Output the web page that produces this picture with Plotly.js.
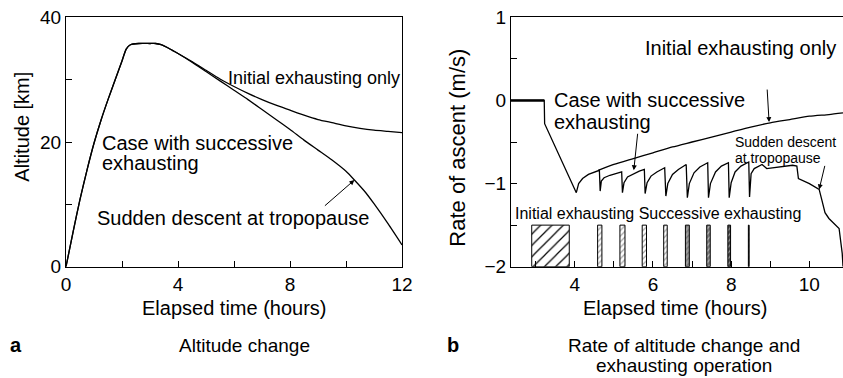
<!DOCTYPE html>
<html>
<head>
<meta charset="utf-8">
<script src="https://cdn.plot.ly/plotly-3.0.1.min.js"></script>
<style>html,body{margin:0;padding:0;background:#fff}#chart{width:843px;height:378px}</style>
</head>
<body>
<div id="chart"></div>
<script>
// ---- Panel a: altitude (km) vs elapsed time (hours) ----
const altTimeInitial = [0, 0.25, 0.5, 0.75, 1.0, 1.25, 1.5, 1.75, 2.0, 2.15, 2.3, 2.6, 3.0, 3.2, 3.4, 3.6, 3.8, 4.0, 4.5, 5.0, 5.5, 6.0, 6.5, 7.0, 7.5, 8.0, 8.5, 9.0, 9.5, 10.0, 10.5, 11.0, 11.5, 12.0];
const altInitial     = [0, 5.5, 10.8, 15.5, 19.8, 23.5, 26.8, 29.9, 33, 34.9, 35.6, 35.8, 35.8, 35.8, 35.6, 35.2, 34.7, 34.2, 32.9, 31.5, 30.1, 28.9, 27.8, 26.8, 25.9, 25.1, 24.3, 23.6, 23.1, 22.6, 22.2, 21.9, 21.7, 21.5];
const altTimeSucc    = [0, 0.25, 0.5, 0.75, 1.0, 1.25, 1.5, 1.75, 2.0, 2.15, 2.3, 2.6, 3.0, 3.2, 3.4, 3.6, 3.8, 4.0, 4.5, 5.0, 5.5, 6.0, 6.5, 7.0, 7.5, 8.0, 8.5, 9.0, 9.5, 10.0, 10.3, 10.7, 11.0, 11.5, 12.0];
const altSucc        = [0, 5.5, 10.8, 15.5, 19.8, 23.5, 26.8, 29.9, 33, 34.9, 35.6, 35.8, 35.8, 35.8, 35.6, 35.2, 34.7, 34.2, 32.8, 31.3, 29.8, 28.3, 26.8, 25.2, 23.6, 22.0, 20.3, 18.7, 17.1, 15.3, 13.9, 11.9, 10.1, 6.9, 3.5];

// ---- Panel b: rate of ascent (m/s) vs elapsed time (hours) ----
const rateTimeSucc = [2.37, 3.22, 3.23, 4.04, 4.1, 4.2, 4.35, 4.5, 4.63,
  4.65, 4.68, 4.75, 4.9, 5.05, 5.2,
  5.22, 5.26, 5.35, 5.5, 5.65, 5.78,
  5.8, 5.85, 5.95, 6.1, 6.3,
  6.33, 6.38, 6.5, 6.65, 6.85,
  6.88, 6.93, 7.05, 7.2, 7.4,
  7.42, 7.47, 7.6, 7.75, 7.93,
  7.95, 8.0, 8.1, 8.25, 8.45,
  8.47, 8.51, 8.59, 8.79, 8.91, 9.57, 9.68, 9.72, 10.0, 10.25, 10.32, 10.4, 10.5, 10.76, 10.84, 10.86];
const rateSucc = [0, 0, -0.28, -1.11, -1.0, -0.94, -0.89, -0.86, -0.84,
  -1.09, -0.97, -0.93, -0.9, -0.88, -0.86,
  -1.11, -0.99, -0.92, -0.88, -0.85, -0.83,
  -1.12, -0.99, -0.91, -0.86, -0.81,
  -1.15, -1.0, -0.89, -0.83, -0.77,
  -1.17, -1.0, -0.87, -0.8, -0.75,
  -1.17, -1.0, -0.86, -0.79, -0.75,
  -1.17, -0.99, -0.86, -0.79, -0.74,
  -1.16, -0.88, -0.82, -0.77, -0.82, -0.78, -0.79, -0.94, -1.0, -1.07, -1.2, -1.35, -1.42, -1.54, -1.84, -2.0];
const rateTimeInitial = [4.6, 5.0, 5.5, 6.0, 6.5, 7.0, 7.5, 8.0, 8.5, 9.0, 9.5, 10.0, 10.5, 10.86];
const rateInitial     = [-0.84, -0.77, -0.7, -0.63, -0.56, -0.5, -0.44, -0.38, -0.32, -0.27, -0.23, -0.19, -0.17, -0.15];

// exhausting operations (hours): centre and duration
const initialExhaustCenter   = [3.38];
const initialExhaustDuration = [0.96];
const succExhaustCenters     = [4.64, 5.22, 5.78, 6.32, 6.88, 7.42, 7.95, 8.45];
const succExhaustDurations   = [0.11, 0.13, 0.11, 0.09, 0.10, 0.09, 0.07, 0.02];
const succExhaustShades      = ['white', 'white', 'white', 'white', '#9a9a9a', '#777777', '#444444', 'black'];

// ---- layout helpers (pixel -> paper) ----
const W = 843, H = 378;
const PX = px => px / W;
const PY = py => 1 - py / H;
const FONT = 'Liberation Sans, Arial, Helvetica, sans-serif';
const yDom = [PY(266.7), PY(17.3)];

const lineStyle = {color: 'black', width: 1.3};

const traces = [
  {x: altTimeInitial, y: altInitial, type: 'scatter', mode: 'lines', line: Object.assign({shape: 'spline', smoothing: 0.6}, lineStyle), xaxis: 'x', yaxis: 'y', hoverinfo: 'skip'},
  {x: altTimeSucc, y: altSucc, type: 'scatter', mode: 'lines', line: Object.assign({shape: 'spline', smoothing: 0.6}, lineStyle), xaxis: 'x', yaxis: 'y', hoverinfo: 'skip'},
  {x: initialExhaustCenter, y: [0.5], base: -2, width: initialExhaustDuration,
   type: 'bar', xaxis: 'x2', yaxis: 'y2', hoverinfo: 'skip',
   marker: {color: 'white', line: {color: 'black', width: 1},
            pattern: {shape: '/', fgcolor: 'black', bgcolor: 'white', size: 8, solidity: 0.15, fillmode: 'replace'}}},
  {x: succExhaustCenters, y: succExhaustCenters.map(() => 0.5), base: -2, width: succExhaustDurations,
   type: 'bar', xaxis: 'x2', yaxis: 'y2', hoverinfo: 'skip',
   marker: {color: succExhaustShades, line: {color: 'black', width: 1},
            pattern: {shape: '/', fgcolor: 'black', size: 4, solidity: 0.3, fillmode: 'overlay'}}},
  {x: rateTimeSucc, y: rateSucc, type: 'scatter', mode: 'lines', line: lineStyle, xaxis: 'x2', yaxis: 'y2', hoverinfo: 'skip'},
  {x: rateTimeSucc.slice(0, 2), y: rateSucc.slice(0, 2), type: 'scatter', mode: 'lines', line: {color: 'black', width: 2.4}, xaxis: 'x2', yaxis: 'y2', hoverinfo: 'skip'},
  {x: rateTimeInitial, y: rateInitial, type: 'scatter', mode: 'lines', line: Object.assign({shape: 'spline', smoothing: 0.6}, lineStyle), xaxis: 'x2', yaxis: 'y2', hoverinfo: 'skip'}
];

const axBase = {
  showgrid: false, zeroline: false, showline: true, linecolor: 'black', linewidth: 1,
  ticks: 'inside', ticklen: 6, tickcolor: 'black', tickwidth: 1,
  tickfont: {family: FONT, size: 19, color: 'black'}, fixedrange: true
};

function txt(text, px, py, size, opts) {
  return Object.assign({text: text, xref: 'paper', yref: 'paper', x: PX(px), y: PY(py),
    showarrow: false, font: {family: FONT, size: size, color: 'black'},
    xanchor: 'center', yanchor: 'middle'}, opts || {});
}
function arrow(xr, yr, x, y, ax, ay) {
  return {xref: xr, yref: yr, x: x, y: y, ax: ax, ay: ay, text: '', showarrow: true,
    arrowhead: 2, arrowsize: 1, arrowwidth: 1, arrowcolor: 'black'};
}

const annotations = [
  // axis titles
  txt('Altitude [km]', 21.7, 127, 20, {textangle: -90}),
  txt('Rate of ascent (m/s)', 456.7, 148, 22, {textangle: -90}),
  txt('Elapsed time (hours)', 234, 307.7, 20),
  txt('Elapsed time (hours)', 675, 307.7, 20),
  // captions
  txt('<b>a</b>', 16, 345, 20),
  txt('Altitude change', 244, 345, 19),
  txt('<b>b</b>', 453, 345, 20),
  txt('Rate of altitude change and', 684, 345, 19),
  txt('exhausting operation', 684, 365, 19),
  // panel a labels
  txt('Initial exhausting only', 313.7, 78.3, 18),
  txt('Case with successive', 100, 143, 20, {xanchor: 'left'}),
  txt('exhausting', 100, 163, 20, {xanchor: 'left'}),
  txt('Sudden descent at tropopause', 232.5, 218, 20),
  arrow('x', 'y', 10.30, 13.9, -31, 27),
  // panel b labels
  txt('Initial exhausting only', 740, 48.3, 20),
  txt('Case with successive', 551.7, 100, 20, {xanchor: 'left'}),
  txt('exhausting', 551.7, 121.7, 20, {xanchor: 'left'}),
  txt('Sudden descent', 733, 142, 14, {xanchor: 'left'}),
  txt('at tropopause', 733, 158, 14, {xanchor: 'left'}),
  txt('Initial exhausting Successive exhausting', 658, 213.3, 16),
  arrow('x2', 'y2', 8.97, -0.26, -2, -34),
  arrow('x2', 'y2', 5.51, -0.84, 4, -38),
  arrow('x2', 'y2', 10.25, -1.07, 6, -25)
];

const layout = {
  width: W, height: H, margin: {l: 0, r: 0, t: 0, b: 0},
  paper_bgcolor: 'white', plot_bgcolor: 'rgba(0,0,0,0)', showlegend: false,
  font: {family: FONT, color: 'black'},
  xaxis: Object.assign({}, axBase, {domain: [PX(66), PX(402)], range: [0, 12], tick0: 0, dtick: 4, mirror: true, anchor: 'y',
    minor: {dtick: 2, ticks: 'inside', ticklen: 6, tickcolor: 'black', showgrid: false}}),
  yaxis: Object.assign({}, axBase, {domain: yDom, range: [0, 40], tick0: 0, dtick: 20, mirror: true, anchor: 'x',
    minor: {dtick: 10, ticks: 'inside', ticklen: 6, tickcolor: 'black', showgrid: false}}),
  xaxis2: Object.assign({}, axBase, {domain: [PX(511), 1], range: [2.37, 10.86], tick0: 0, dtick: 2, mirror: true, anchor: 'y2',
    minor: {dtick: 1, ticks: 'inside', ticklen: 6, tickcolor: 'black', showgrid: false}}),
  yaxis2: Object.assign({}, axBase, {domain: yDom, range: [-2, 1], tick0: 0, dtick: 1, mirror: false, anchor: 'x2',
    minor: {dtick: 0.5, ticks: 'inside', ticklen: 6, tickcolor: 'black', showgrid: false}}),
  annotations: annotations
};

Plotly.newPlot('chart', traces, layout, {staticPlot: true, displayModeBar: false});
</script>
</body>
</html>
